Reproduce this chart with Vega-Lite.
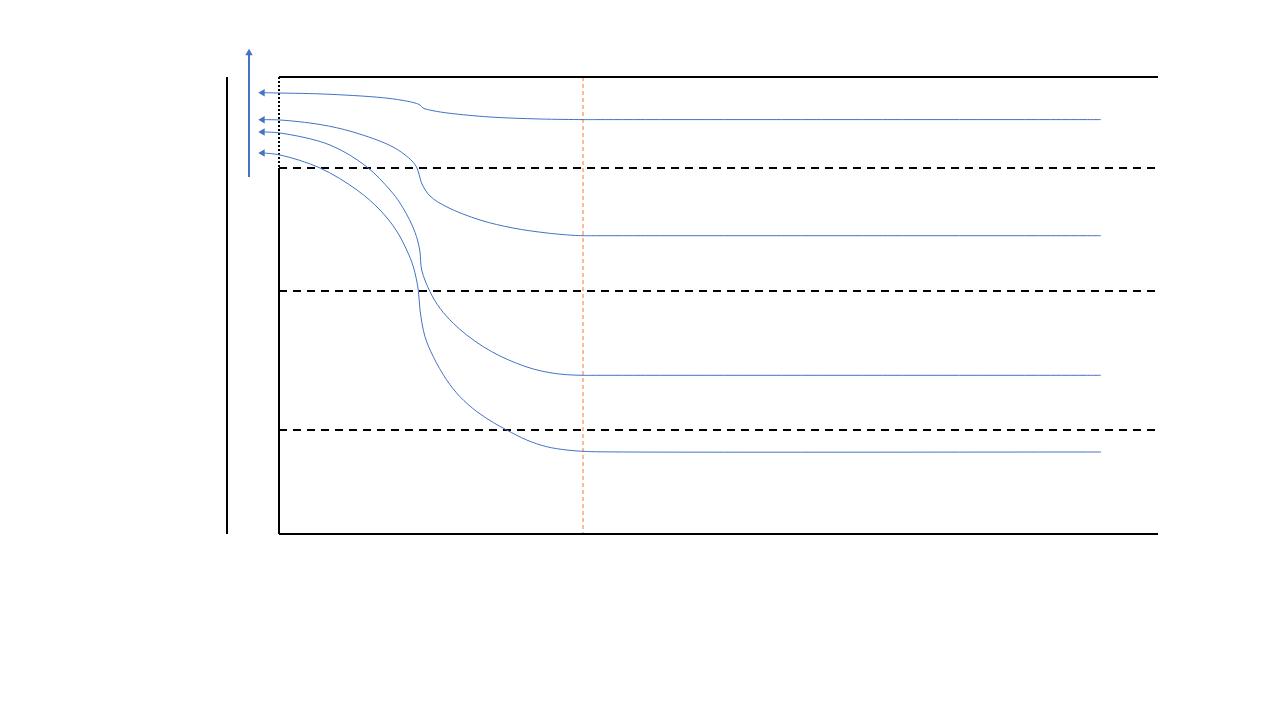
{
  "$schema": "https://vega.github.io/schema/vega-lite/v6.json",
  "width": 1280,
  "height": 720,
  "padding": 0,
  "autosize": {"type": "fit", "contains": "padding"},
  "background": "white",
  "config": {"view": {"stroke": null}},
  "datasets": {
    "solid": [
      {"x": 227, "y": 77, "x2": 227, "y2": 534},
      {"x": 279, "y": 77, "x2": 1158, "y2": 77},
      {"x": 279, "y": 534, "x2": 1158, "y2": 534},
      {"x": 279, "y": 168, "x2": 279, "y2": 534}
    ],
    "dotted": [
      {"x": 279, "y": 77, "x2": 279, "y2": 168}
    ],
    "dashed": [
      {"x": 279, "y": 168, "x2": 1158, "y2": 168},
      {"x": 279, "y": 291, "x2": 1158, "y2": 291},
      {"x": 279, "y": 430, "x2": 1158, "y2": 430}
    ],
    "orange": [
      {"x": 583, "y": 77, "x2": 583, "y2": 534}
    ],
    "bluerule": [
      {"x": 249, "y": 177, "x2": 249, "y2": 55}
    ],
    "uparrow": [
      {"x": 249, "y": 52}
    ],
    "leftarrows": [
      {"x": 261.5, "y": 92.7},
      {"x": 261.5, "y": 119.7},
      {"x": 261.5, "y": 132},
      {"x": 261.5, "y": 153}
    ],
    "curves": [
      {"s": 1, "i": 1, "x": 263, "y": 92.7},
      {"s": 1, "i": 2, "x": 279, "y": 93},
      {"s": 1, "i": 3, "x": 330, "y": 94.3},
      {"s": 1, "i": 4, "x": 390, "y": 98.5},
      {"s": 1, "i": 5, "x": 415, "y": 103},
      {"s": 1, "i": 6, "x": 420, "y": 105},
      {"s": 1, "i": 7, "x": 423, "y": 108},
      {"s": 1, "i": 8, "x": 433, "y": 110.7},
      {"s": 1, "i": 9, "x": 450, "y": 113.3},
      {"s": 1, "i": 10, "x": 490, "y": 117},
      {"s": 1, "i": 11, "x": 540, "y": 119},
      {"s": 1, "i": 12, "x": 583, "y": 119.6},
      {"s": 1, "i": 13, "x": 600, "y": 119.6},
      {"s": 1, "i": 14, "x": 1084, "y": 119.6},
      {"s": 1, "i": 15, "x": 1101, "y": 119.6},
      {"s": 2, "i": 1, "x": 263, "y": 119.7},
      {"s": 2, "i": 2, "x": 280, "y": 120},
      {"s": 2, "i": 3, "x": 320, "y": 124.5},
      {"s": 2, "i": 4, "x": 353, "y": 132},
      {"s": 2, "i": 5, "x": 393, "y": 147},
      {"s": 2, "i": 6, "x": 412, "y": 161},
      {"s": 2, "i": 7, "x": 417, "y": 168},
      {"s": 2, "i": 8, "x": 419.5, "y": 176},
      {"s": 2, "i": 9, "x": 422, "y": 184},
      {"s": 2, "i": 10, "x": 430, "y": 196},
      {"s": 2, "i": 11, "x": 447, "y": 207},
      {"s": 2, "i": 12, "x": 480, "y": 220},
      {"s": 2, "i": 13, "x": 513, "y": 228},
      {"s": 2, "i": 14, "x": 547, "y": 233},
      {"s": 2, "i": 15, "x": 573, "y": 235.3},
      {"s": 2, "i": 16, "x": 583, "y": 235.7},
      {"s": 2, "i": 17, "x": 600, "y": 235.7},
      {"s": 2, "i": 18, "x": 1084, "y": 235.7},
      {"s": 2, "i": 19, "x": 1101, "y": 235.7},
      {"s": 3, "i": 1, "x": 263, "y": 132},
      {"s": 3, "i": 2, "x": 280, "y": 133},
      {"s": 3, "i": 3, "x": 330, "y": 145},
      {"s": 3, "i": 4, "x": 367, "y": 167},
      {"s": 3, "i": 5, "x": 390, "y": 190},
      {"s": 3, "i": 6, "x": 400, "y": 203},
      {"s": 3, "i": 7, "x": 412, "y": 225},
      {"s": 3, "i": 8, "x": 417.5, "y": 240},
      {"s": 3, "i": 9, "x": 420, "y": 252},
      {"s": 3, "i": 10, "x": 421.7, "y": 270},
      {"s": 3, "i": 11, "x": 430, "y": 291.7},
      {"s": 3, "i": 12, "x": 440, "y": 308.3},
      {"s": 3, "i": 13, "x": 453.3, "y": 323.3},
      {"s": 3, "i": 14, "x": 466.7, "y": 335},
      {"s": 3, "i": 15, "x": 483.3, "y": 346.7},
      {"s": 3, "i": 16, "x": 500, "y": 356},
      {"s": 3, "i": 17, "x": 516.7, "y": 363.3},
      {"s": 3, "i": 18, "x": 533.3, "y": 369},
      {"s": 3, "i": 19, "x": 550, "y": 372.7},
      {"s": 3, "i": 20, "x": 566.7, "y": 374.7},
      {"s": 3, "i": 21, "x": 583, "y": 375.3},
      {"s": 3, "i": 22, "x": 600, "y": 375.3},
      {"s": 3, "i": 23, "x": 1084, "y": 375.3},
      {"s": 3, "i": 24, "x": 1101, "y": 375.3},
      {"s": 4, "i": 1, "x": 263, "y": 153},
      {"s": 4, "i": 2, "x": 280, "y": 155},
      {"s": 4, "i": 3, "x": 320, "y": 168},
      {"s": 4, "i": 4, "x": 357, "y": 190},
      {"s": 4, "i": 5, "x": 380, "y": 210},
      {"s": 4, "i": 6, "x": 396, "y": 230},
      {"s": 4, "i": 7, "x": 406.7, "y": 250},
      {"s": 4, "i": 8, "x": 413.3, "y": 266.7},
      {"s": 4, "i": 9, "x": 418.3, "y": 290},
      {"s": 4, "i": 10, "x": 420, "y": 310},
      {"s": 4, "i": 11, "x": 425, "y": 336.7},
      {"s": 4, "i": 12, "x": 433.3, "y": 356.7},
      {"s": 4, "i": 13, "x": 446.7, "y": 380},
      {"s": 4, "i": 14, "x": 460, "y": 396.7},
      {"s": 4, "i": 15, "x": 476.7, "y": 411.5},
      {"s": 4, "i": 16, "x": 493.3, "y": 422.5},
      {"s": 4, "i": 17, "x": 506.7, "y": 430},
      {"s": 4, "i": 18, "x": 526.7, "y": 440},
      {"s": 4, "i": 19, "x": 546.7, "y": 446.7},
      {"s": 4, "i": 20, "x": 566.7, "y": 450},
      {"s": 4, "i": 21, "x": 583, "y": 451.3},
      {"s": 4, "i": 22, "x": 600, "y": 451.8},
      {"s": 4, "i": 23, "x": 1084, "y": 452},
      {"s": 4, "i": 24, "x": 1101, "y": 452}
    ]
  },
  "encoding": {
    "x": {"field": "x", "type": "quantitative", "scale": {"domain": [0, 1280], "nice": false, "zero": false}, "axis": null},
    "y": {"field": "y", "type": "quantitative", "scale": {"domain": [0, 720], "nice": false, "zero": false, "reverse": true}, "axis": null}
  },
  "layer": [
    {
      "data": {"name": "orange"},
      "mark": {"type": "rule", "color": "#ED7D31", "strokeWidth": 1, "strokeDash": [4, 3], "opacity": 1},
      "encoding": {"x2": {"field": "x2"}, "y2": {"field": "y2"}}
    },
    {
      "data": {"name": "dashed"},
      "mark": {"type": "rule", "color": "#000000", "strokeWidth": 2, "strokeDash": [8, 6]},
      "encoding": {"x2": {"field": "x2"}, "y2": {"field": "y2"}}
    },
    {
      "data": {"name": "dotted"},
      "mark": {"type": "rule", "color": "#000000", "strokeWidth": 2, "strokeDash": [2, 2]},
      "encoding": {"x2": {"field": "x2"}, "y2": {"field": "y2"}}
    },
    {
      "data": {"name": "solid"},
      "mark": {"type": "rule", "color": "#000000", "strokeWidth": 2},
      "encoding": {"x2": {"field": "x2"}, "y2": {"field": "y2"}}
    },
    {
      "data": {"name": "bluerule"},
      "mark": {"type": "rule", "color": "#4472C4", "strokeWidth": 2},
      "encoding": {"x2": {"field": "x2"}, "y2": {"field": "y2"}}
    },
    {
      "data": {"name": "curves"},
      "mark": {"type": "line", "color": "#4472C4", "strokeWidth": 1, "interpolate": "catmull-rom"},
      "encoding": {"detail": {"field": "s", "type": "nominal"}, "order": {"field": "i", "type": "quantitative"}}
    },
    {
      "data": {"name": "leftarrows"},
      "mark": {"type": "point", "shape": "triangle-left", "filled": true, "color": "#4472C4", "size": 55, "opacity": 1}
    },
    {
      "data": {"name": "uparrow"},
      "mark": {"type": "point", "shape": "triangle-up", "filled": true, "color": "#4472C4", "size": 55, "opacity": 1}
    }
  ]
}
